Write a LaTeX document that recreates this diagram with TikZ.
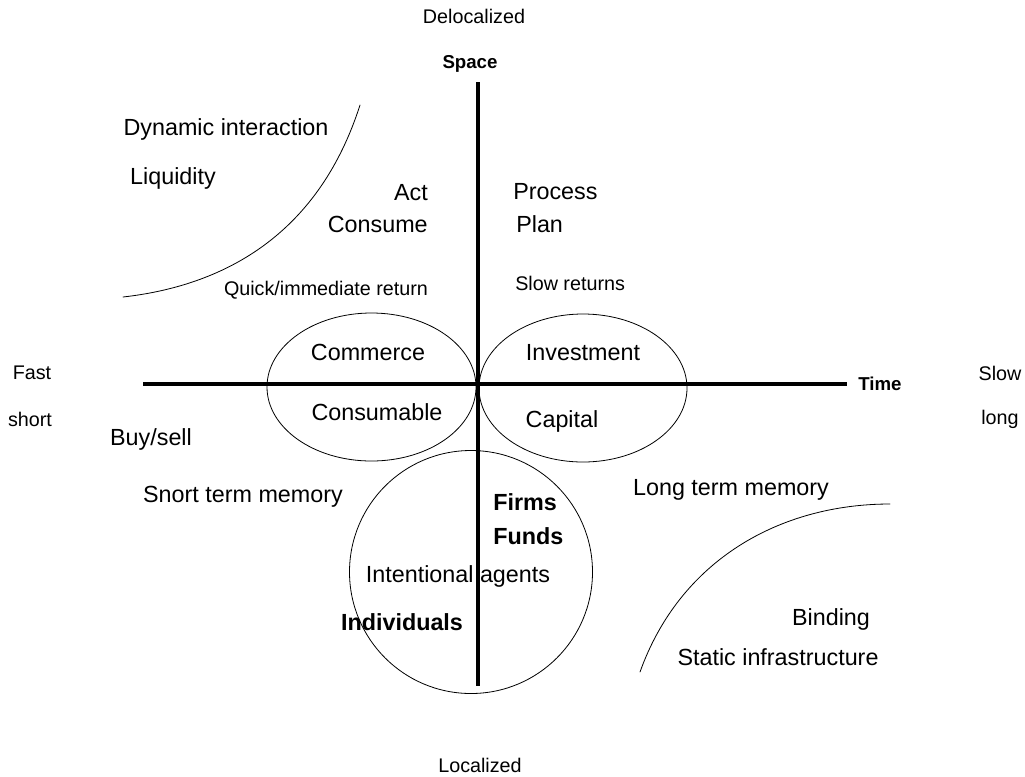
\documentclass[tikz,border=0pt]{standalone}
\usepackage{fontspec}
\setmainfont{Liberation Sans}
\begin{document}
\begin{tikzpicture}[x=0.75pt,y=-0.75pt,line join=round,line cap=round,
  every node/.style={inner sep=0pt,text height=1.06em,text depth=0pt},
  big/.style={font=\fontsize{17.5}{20}\selectfont},
  bigb/.style={font=\fontsize{17.5}{20}\selectfont\bfseries},
  sm/.style={font=\fontsize{14.8}{17}\selectfont},
  axlbl/.style={font=\fontsize{14}{16}\selectfont\bfseries},
  axis/.style={line width=2.8pt,line cap=butt},
  thinline/.style={line width=0.6pt}]
\useasboundingbox (0,0) rectangle (1025,776);
% axes
\coordinate (N) at (478,82);  \coordinate (S) at (478,686);
\coordinate (W) at (143,384); \coordinate (E) at (847,384);
\draw[axis] (N)--(S);
\draw[axis] (W)--(E);
\node[axlbl] (space) at (470,61) {Space};
\node[axlbl,anchor=west] (time) at (858,383) {Time};
% ends of the two scales
\foreach \nm/\p/\t in {deloc/{474,16}/Delocalized,loc/{480,765}/Localized,
  fast/{32,372}/Fast,short/{30,419}/short,slow/{1000,373}/Slow,long/{1000,417}/long,
  quick/{326,288}/{Quick/immediate return}}
  \node[sm] (\nm) at (\p) {\t};
\node[sm,anchor=west] (slowret) at (515,283) {Slow returns};
% ellipses around the origin
\draw[thinline] (371.5,387) ellipse [x radius=104.5,y radius=74];
\draw[thinline] (583,388) ellipse [x radius=104,y radius=74];
\draw[thinline] (471,572) circle [radius=121.5];
% boundary arcs
\coordinate (a1) at (123,297); \coordinate (a2) at (360,105);
\draw[thinline] (a1) .. controls (230,285) and (320,230) .. (a2);
\coordinate (b1) at (640,672); \coordinate (b2) at (890,504);
\draw[thinline] (b1) .. controls (680,560) and (780,504) .. (b2);
% quadrant labels
\foreach \nm/\p/\t in {dyn/{226,128}/Dynamic interaction,liq/{173,177}/Liquidity,
  comm/{368,353}/Commerce,cons/{377,413}/Consumable,inv/{583,353}/Investment,
  cap/{562,420}/Capital,buy/{151,438}/{Buy/sell},stm/{243,495}/Snort term memory,
  ltm/{731,488}/Long term memory,agents/{458,575}/Intentional agents,
  bind/{831,618}/Binding,stat/{778,658}/Static infrastructure}
  \node[big] (\nm) at (\p) {\t};
\node[big,anchor=east] (act) at (428,193) {Act};
\node[big,anchor=east] (consume) at (428,225) {Consume};
\node[big,anchor=west] (proc) at (513,192) {Process};
\node[big,anchor=west] (plan) at (516,225) {Plan};
\node[bigb,anchor=west] (firms) at (493,503) {Firms};
\node[bigb,anchor=west] (funds) at (493,537) {Funds};
\node[bigb] (indiv) at (402,623) {Individuals};
\end{tikzpicture}
\end{document}
